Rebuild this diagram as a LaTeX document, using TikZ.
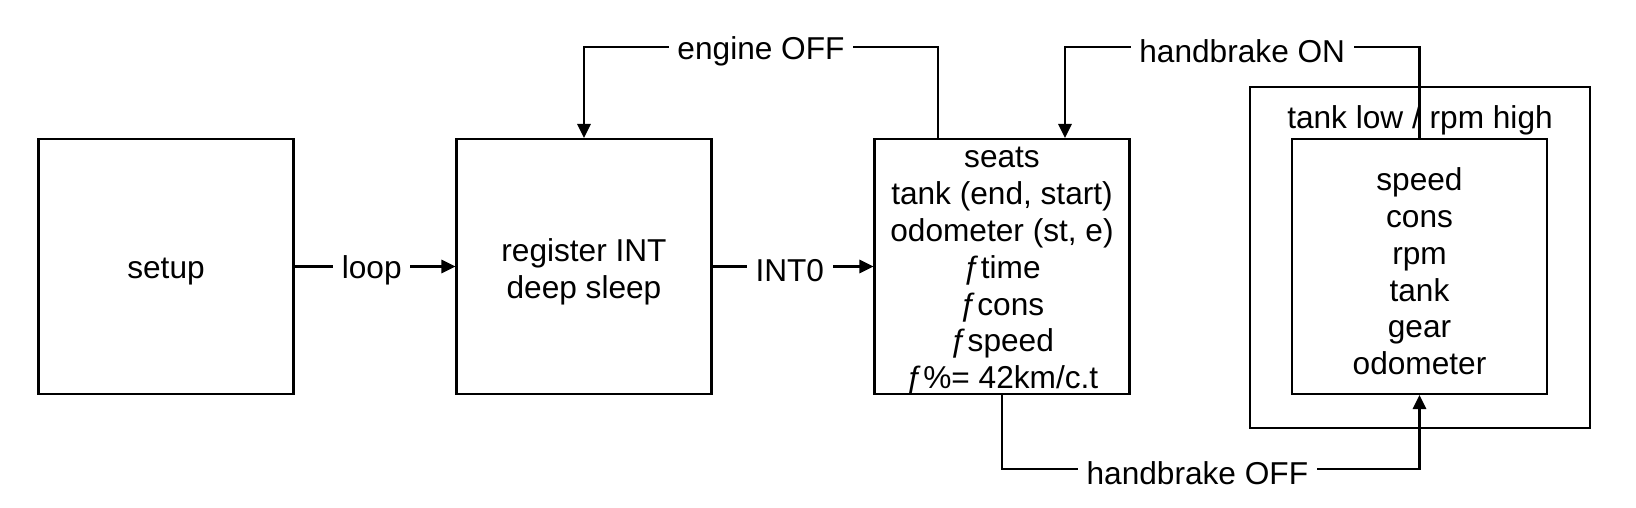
\documentclass[tikz,border=0pt]{standalone}
\usepackage{fontspec}
\setmainfont{Liberation Sans}
\usetikzlibrary{arrows.meta,positioning}
\begin{document}
\begin{tikzpicture}[font=\fontsize{9pt}{10.47pt}\selectfont,
  box/.style={draw,line width=0.6pt,minimum width=2.55cm,minimum height=2.55cm,inner sep=0pt},
  txt/.style={align=center,yshift=-0.5mm},
  flow/.style={line width=0.6pt,-{Triangle[length=4pt,width=3.8pt]}},
  lbl/.style={fill=white,inner sep=2.5pt,yshift=-0.4mm}]
  \useasboundingbox (0,0) rectangle (16.36,5.08);
  % boxes
  \node[box,label={[txt]center:setup}] (setup) at (1.66,2.415) {};
  \node[box,label={[txt]center:{register INT\\deep sleep}}] (sleep) at (5.84,2.415) {};
  \node[box,label={[txt]center:{seats\\tank (end, start)\\odometer (st, e)\\ƒtime\\ƒcons\\ƒspeed\\ƒ\%= 42km/c.t}}] (calc) at (10.02,2.415) {};
  \node[box,minimum width=3.40cm,minimum height=3.41cm] (warn) at (14.20,2.505) {};
  \node[box,label={[txt]center:{speed\\cons\\rpm\\tank\\gear\\odometer}}] (disp) at (14.195,2.415) {};
  % connectors
  \draw[flow] (setup) -- node[lbl,pos=0.48] {loop} (sleep);
  \draw[flow] (sleep) -- node[lbl,pos=0.48] {INT0} (calc);
  \draw[flow] ([xshift=-6.4mm]calc.north) -- ++(0,0.91) -| node[lbl,pos=0.25] {engine OFF} (sleep.north);
  \draw[flow] (disp.north) -- ++(0,0.91) -| node[lbl,pos=0.25] {handbrake ON} ([xshift=6.3mm]calc.north);
  \draw[flow] (calc.south) -- ++(0,-0.74) -| node[lbl,pos=0.234] {handbrake OFF} (disp.south);
  \node (warntitle) at ([yshift=-3.4mm]warn.north) {tank low / rpm high};
\end{tikzpicture}
\end{document}
